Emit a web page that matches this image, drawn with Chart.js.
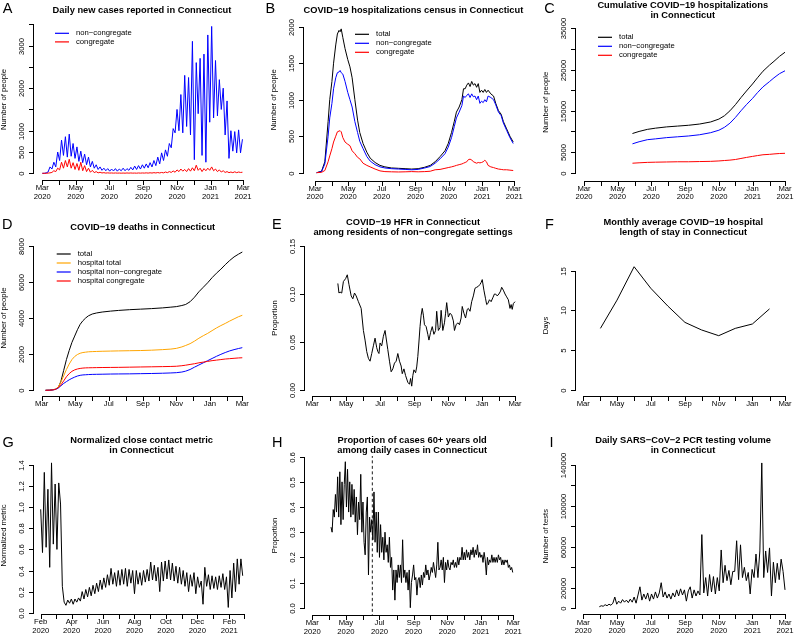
<!DOCTYPE html>
<html>
<head>
<meta charset="utf-8">
<script src="https://cdn.jsdelivr.net/npm/chart.js@4.4.1/dist/chart.umd.min.js"></script>
<style>
  html, body { margin: 0; padding: 0; background: #fff; }
  #fig { position: relative; width: 794px; height: 634px; overflow: hidden; }
  #fig canvas { position: absolute; }
  #fig .rule { position: absolute; background: #000; z-index: 2; pointer-events: none; }
</style>
</head>
<body>
<div id="fig"></div>
<script>
// month ticks, days counted from 1 Mar 2020
const tickDays = [-29, 0, 31, 61, 92, 122, 153, 184, 214, 245, 275, 306, 337, 365];
const tickMonths = ['Feb', 'Mar', 'Apr', 'May', 'Jun', 'Jul', 'Aug', 'Sep', 'Oct', 'Nov', 'Dec', 'Jan', 'Feb', 'Mar'];
const tickYears = ['2020', '2020', '2020', '2020', '2020', '2020', '2020', '2020', '2020', '2020', '2020', '2021', '2021', '2021'];

// A - daily new cases (every 3.5 days from day 0)
const caseStart = 0;
const caseStep = 3.5;
const caseNonCong = [
  0, 0, 10, 30, 150, 100, 260, 150, 500, 300,
  780, 420, 860, 380, 920, 400, 700, 350, 620, 280,
  520, 250, 450, 200, 380, 150, 280, 120, 200, 90,
  150, 70, 120, 60, 110, 50, 100, 55, 110, 50,
  100, 60, 120, 60, 110, 70, 140, 80, 170, 90,
  180, 100, 200, 120, 220, 130, 250, 150, 300, 180,
  380, 220, 480, 300, 550, 400, 700, 600, 1050, 950,
  1500, 1000, 1850, 950, 2300, 1100, 2250, 900, 3100, 320,
  2600, 1400, 2700, 420, 2800, 260, 3250, 1200, 3450, 1300,
  2650, 1350, 2200, 1500, 2000, 900, 1700, 350, 1000, 520,
  980, 480, 1020, 480, 800
];
const caseCong = [
  0, 0, 0, 5, 10, 20, 60, 40, 120, 80,
  260, 120, 300, 150, 330, 120, 250, 90, 230, 70,
  260, 60, 180, 40, 120, 25, 70, 15, 40, 10,
  25, 8, 15, 5, 10, 5, 8, 4, 8, 4,
  6, 3, 6, 3, 8, 4, 8, 4, 6, 3,
  8, 4, 8, 5, 10, 5, 12, 6, 15, 8,
  18, 8, 20, 10, 30, 15, 40, 20, 55, 25,
  80, 40, 100, 50, 90, 40, 110, 50, 130, 60,
  190, 70, 120, 40, 110, 60, 120, 70, 150, 60,
  100, 40, 80, 30, 60, 20, 40, 15, 30, 15,
  35, 15, 30, 20, 25
];
const caseTicks = [0, 500, 1000, 1500, 2000, 2500, 3000, 3500];
const caseTickLabels = ['0', '500', '1000', '', '2000', '', '3000', ''];

// B - hospital census
const censusDays = [
  3, 12, 18, 24, 27, 31, 34, 38, 41, 44, 46, 48, 51, 55, 60, 64, 68, 73, 78, 82,
  88, 95, 101, 110, 119, 128, 140, 153, 165, 177, 189, 201, 211, 220, 229, 238, 244, 250, 255, 259,
  264, 269, 272, 275, 278, 281, 284, 287, 290, 293, 296, 299, 302, 305, 308, 311, 314, 317, 322, 327,
  331, 336, 341, 345, 351, 357, 363
];
const censusTotal = [
  0, 20, 150, 700, 1000, 1250, 1500, 1750, 1900, 1950, 1930, 1970, 1850, 1700, 1550, 1450, 1300, 1000, 720, 550,
  400, 280, 200, 140, 100, 80, 65, 60, 55, 50, 55, 75, 100, 150, 220, 300, 400, 550, 700, 830,
  900, 1000, 1150, 1150, 1200, 1230, 1180, 1250, 1200, 1220, 1170, 1220, 1100, 1130, 1100, 1140, 1100, 1130, 1080, 1050,
  950, 850, 800, 700, 600, 500, 420
];
const censusNonCong = [
  0, 15, 120, 500, 750, 950, 1150, 1300, 1370, 1380, 1400, 1370, 1350, 1250, 1100, 1000, 900, 700, 550, 430,
  330, 220, 160, 110, 80, 65, 55, 50, 45, 40, 45, 65, 85, 130, 190, 260, 350, 480, 630, 750,
  830, 920, 1050, 1030, 1060, 1080, 1030, 1080, 1040, 1050, 1000, 1050, 950, 980, 960, 1000, 970, 1050, 1030, 1000,
  930, 830, 780, 680, 580, 480, 400
];
const censusCong = [
  0, 5, 30, 150, 230, 330, 420, 500, 560, 570, 575, 560, 480, 420, 390, 370, 300, 260, 210, 190,
  130, 100, 80, 50, 25, 15, 12, 10, 12, 15, 12, 15, 20, 40, 45, 60, 70, 80, 90, 100,
  110, 120, 130, 140, 150, 180, 185, 175, 150, 140, 130, 140, 135, 140, 150, 170, 150, 100, 80, 70,
  60, 50, 45, 40, 40, 35, 30
];
const censusTicks = [0, 500, 1000, 1500, 2000];
const censusTickLabels = ['0', '500', '1000', '1500', '2000'];

// C - cumulative hospitalizations
const cumDays = [88, 100, 115, 130, 150, 170, 190, 210, 230, 245, 255, 265, 275, 285, 295, 306, 315, 325, 337, 345, 355, 365];
const cumTotal = [9500, 10000, 10500, 10800, 11100, 11300, 11500, 11800, 12300, 13000, 13800, 15000, 16500, 18200, 19800, 21500, 23000, 24600, 26100, 27000, 28200, 29200];
const cumNonCong = [7000, 7500, 8000, 8200, 8500, 8700, 8900, 9200, 9700, 10300, 11000, 12000, 13400, 15000, 16500, 18000, 19400, 20800, 22100, 23000, 24000, 24700];
const cumCong = [2300, 2400, 2500, 2550, 2600, 2650, 2650, 2700, 2750, 2850, 2950, 3050, 3200, 3450, 3700, 3950, 4150, 4350, 4450, 4550, 4650, 4700];
const cumTicks = [0, 5000, 10000, 15000, 20000, 25000, 30000, 35000];
const cumTickLabels = ['0', '5000', '', '15000', '', '25000', '', '35000'];

// D - cumulative deaths
const deathDays = [7, 14, 20, 25, 30, 35, 40, 45, 50, 55, 60, 65, 70, 75, 80, 85, 92, 100, 110, 125, 140, 160, 180, 200, 220, 235, 245, 255, 262, 270, 278, 286, 294, 302, 310, 318, 326, 334, 342, 350, 358, 365];
const deathTotal = [0, 5, 30, 60, 150, 500, 1100, 1700, 2200, 2650, 3000, 3350, 3650, 3850, 4000, 4120, 4220, 4280, 4330, 4380, 4420, 4460, 4490, 4520, 4560, 4600, 4630, 4690, 4750, 4900, 5150, 5450, 5700, 5950, 6230, 6480, 6700, 6950, 7180, 7380, 7530, 7650];
const deathHosp = [0, 5, 30, 60, 180, 450, 800, 1150, 1450, 1700, 1870, 1980, 2050, 2090, 2110, 2130, 2140, 2150, 2160, 2170, 2180, 2190, 2200, 2220, 2250, 2280, 2320, 2400, 2480, 2580, 2720, 2880, 3020, 3150, 3300, 3450, 3580, 3700, 3830, 3950, 4070, 4150];
const deathHospNonCong = [0, 5, 20, 50, 120, 250, 380, 480, 580, 660, 730, 790, 830, 850, 860, 870, 880, 885, 890, 900, 905, 910, 920, 930, 945, 960, 975, 1010, 1060, 1150, 1280, 1400, 1520, 1640, 1760, 1880, 1990, 2090, 2180, 2250, 2310, 2360];
const deathHospCong = [0, 5, 20, 50, 150, 300, 520, 750, 920, 1050, 1130, 1180, 1210, 1230, 1240, 1245, 1250, 1255, 1260, 1265, 1270, 1280, 1290, 1300, 1310, 1320, 1330, 1360, 1390, 1430, 1470, 1520, 1560, 1600, 1640, 1670, 1700, 1730, 1750, 1770, 1790, 1800];
const deathTicks = [0, 2000, 4000, 6000, 8000];
const deathTickLabels = ['0', '2000', '4000', '6000', '8000'];

// E - hospital fatality rate
const hfrDays = [
  46, 48, 50, 53, 56, 60, 63, 66, 70, 73, 76, 79, 83, 88, 92, 95, 98, 101, 104, 107,
  110, 113, 116, 118, 120, 122, 125, 128, 131, 134, 136, 139, 142, 145, 148, 151, 154, 157, 160, 162,
  165, 168, 172, 175, 177, 179, 181, 183, 186, 188, 190, 192, 194, 196, 198, 200, 202, 205, 208, 210,
  213, 216, 219, 222, 224, 227, 230, 232, 235, 238, 240, 242, 245, 248, 251, 254, 256, 259, 262, 265,
  268, 270, 273, 276, 279, 281, 284, 287, 290, 293, 296, 299, 302, 304, 306, 309, 312, 314, 316, 319,
  322, 325, 328, 330, 333, 336, 339, 341, 344, 347, 350, 353, 356, 358, 360, 362, 365
];
const hfrValues = [
  0.111, 0.101, 0.102, 0.101, 0.113, 0.116, 0.120, 0.110, 0.098, 0.095, 0.101, 0.098, 0.092, 0.085, 0.062, 0.052, 0.040, 0.033, 0.030, 0.038,
  0.046, 0.054, 0.044, 0.040, 0.038, 0.049, 0.046, 0.056, 0.062, 0.050, 0.042, 0.030, 0.019, 0.022, 0.028, 0.030, 0.038, 0.030, 0.025, 0.017,
  0.022, 0.015, 0.008, 0.006, 0.012, 0.004, 0.015, 0.021, 0.018, 0.024, 0.035, 0.050, 0.066, 0.078, 0.085, 0.078, 0.068, 0.066, 0.058, 0.052,
  0.060, 0.066, 0.058, 0.062, 0.082, 0.062, 0.065, 0.083, 0.062, 0.070, 0.080, 0.091, 0.076, 0.080, 0.078, 0.072, 0.062, 0.068, 0.070, 0.068,
  0.075, 0.087, 0.080, 0.075, 0.084, 0.085, 0.082, 0.092, 0.098, 0.106, 0.107, 0.108, 0.110, 0.112, 0.115, 0.104, 0.095, 0.089, 0.090, 0.094,
  0.092, 0.096, 0.100, 0.100, 0.098, 0.100, 0.103, 0.107, 0.104, 0.100, 0.097, 0.094, 0.085, 0.089, 0.084, 0.090, 0.092
];
const hfrTicks = [0, 0.05, 0.1, 0.15];
const hfrTickLabels = ['0.00', '0.05', '0.10', '0.15'];

// F - monthly length of stay
const losDays = [31, 61, 92, 122, 153, 184, 214, 245, 275, 306, 337];
const losValues = [7.75, 11.3, 15.5, 12.8, 10.55, 8.5, 7.55, 6.83, 7.75, 8.3, 10.2];
const losTicks = [0, 5, 10, 15];
const losTickLabels = ['0', '5', '10', '15'];

// G - close contact metric (every 3.5 days from 1 Feb 2020)
const contactStart = -29;
const contactStep = 3.5;
const contactValues = [
  0.98, 0.57, 1.33, 0.62, 1.17, 0.43, 1.42, 0.65, 1.22, 0.60,
  1.23, 1.03, 0.25, 0.10, 0.07, 0.12, 0.09, 0.13, 0.08, 0.13,
  0.10, 0.14, 0.11, 0.20, 0.13, 0.22, 0.15, 0.24, 0.16, 0.26,
  0.18, 0.28, 0.20, 0.31, 0.22, 0.33, 0.24, 0.36, 0.26, 0.42,
  0.27, 0.38, 0.25, 0.40, 0.26, 0.41, 0.27, 0.42, 0.25, 0.41,
  0.28, 0.40, 0.18, 0.40, 0.27, 0.38, 0.26, 0.40, 0.29, 0.41,
  0.30, 0.48, 0.31, 0.45, 0.30, 0.43, 0.20, 0.48, 0.30, 0.49,
  0.32, 0.50, 0.31, 0.47, 0.30, 0.44, 0.28, 0.43, 0.27, 0.40,
  0.25, 0.38, 0.20, 0.36, 0.25, 0.38, 0.18, 0.34, 0.24, 0.30,
  0.08, 0.43, 0.25, 0.36, 0.22, 0.35, 0.23, 0.34, 0.22, 0.35,
  0.24, 0.37, 0.22, 0.34, 0.05, 0.40, 0.14, 0.47, 0.20, 0.51,
  0.27, 0.51, 0.35
];
const contactTicks = [0, 0.2, 0.4, 0.6, 0.8, 1.0, 1.2, 1.4];
const contactTickLabels = ['0.0', '0.2', '0.4', '0.6', '0.8', '1.0', '1.2', '1.4'];

// H - share of cases aged 60+ (every 2 days from day 34)
const ageStart = 34;
const ageStep = 2;
const ageValues = [
  0.32, 0.30, 0.39, 0.36, 0.45, 0.38, 0.52, 0.36, 0.54, 0.33,
  0.50, 0.35, 0.49, 0.58, 0.40, 0.55, 0.38, 0.50, 0.36, 0.49,
  0.37, 0.47, 0.34, 0.44, 0.29, 0.42, 0.35, 0.53, 0.30, 0.42,
  0.26, 0.21, 0.38, 0.44, 0.13, 0.36, 0.30, 0.35, 0.27, 0.46,
  0.26, 0.38, 0.22, 0.38, 0.20, 0.33, 0.22, 0.28, 0.19, 0.30,
  0.22, 0.25, 0.18, 0.28, 0.16, 0.20, 0.07, 0.15, 0.03, 0.15,
  0.10, 0.17, 0.12, 0.17, 0.10, 0.27, 0.12, 0.15, 0.10, 0.14,
  0.07, 0.15, 0.00, 0.10, 0.13, 0.17, 0.11, 0.12, 0.05, 0.11,
  0.12, 0.08, 0.13, 0.09, 0.14, 0.12, 0.17, 0.13, 0.15, 0.11,
  0.13, 0.16, 0.14, 0.18, 0.15, 0.12, 0.17, 0.26, 0.15, 0.16,
  0.19, 0.15, 0.20, 0.10, 0.18, 0.15, 0.19, 0.16, 0.15, 0.18,
  0.17, 0.19, 0.16, 0.18, 0.16, 0.20, 0.17, 0.20, 0.19, 0.24,
  0.19, 0.22, 0.19, 0.23, 0.20, 0.22, 0.19, 0.23, 0.21, 0.24,
  0.20, 0.23, 0.21, 0.25, 0.20, 0.22, 0.20, 0.21, 0.18, 0.22,
  0.19, 0.13, 0.20, 0.17, 0.19, 0.18, 0.21, 0.18, 0.20, 0.18,
  0.20, 0.18, 0.21, 0.19, 0.20, 0.17, 0.19, 0.17, 0.19, 0.18,
  0.19, 0.16, 0.17, 0.15, 0.16, 0.14
];
const ageCutoffDay = 109;
const ageTicks = [0, 0.1, 0.2, 0.3, 0.4, 0.5, 0.6];
const ageTickLabels = ['0.0', '0.1', '0.2', '0.3', '0.4', '0.5', '0.6'];

// I - PCR testing volume (every 3.5 days from day 29)
const testStart = 29;
const testStep = 3.5;
const testValues = [
  1500, 2500, 2000, 3500, 2500, 4000, 3000, 5000, 11000, 4000,
  7000, 5000, 8500, 6000, 8000, 5500, 9000, 6000, 11000, 5000,
  13000, 21000, 8000, 14000, 9000, 15000, 7000, 14000, 9000, 16000,
  10000, 15000, 25000, 11000, 16000, 10000, 14000, 9000, 15000, 11000,
  18000, 12000, 19000, 13000, 18000, 7000, 17000, 21000, 10000, 18000,
  12000, 17000, 13000, 72000, 15000, 30000, 12000, 33000, 16000, 31000,
  14000, 30000, 17000, 57000, 25000, 42000, 27000, 37000, 23000, 36000,
  36000, 66000, 28000, 62000, 30000, 40000, 27000, 35000, 14000, 38000,
  30000, 53000, 30000, 56000, 142000, 30000, 56000, 35000, 59000, 12000,
  45000, 25000, 44000, 28000, 48000, 36000, 18000
];
const testTicks = [0, 20000, 40000, 60000, 80000, 100000, 120000, 140000];
const testTickLabels = ['0', '20000', '', '60000', '', '100000', '', '140000'];

const FONT = "'Liberation Sans', Arial, Helvetica, sans-serif";
const SMALL = 7.7;
const TITLE = 9.3;
const BLUE = '#0000ff';
const RED = '#ff0000';
const ORANGE = '#ffa500';
const BLACK = '#000000';

const seq = (start, step, n) => Array.from({ length: n }, (_, i) => start + i * step);
const pts = (xs, ys) => ys.map((v, i) => ({ x: xs[i], y: v }));

// value range that puts v0 at pixel p0 and v1 at p1, for the edges a and b
function span(v0, p0, v1, p1, a, b) {
  const k = (v1 - v0) / (p1 - p0);
  return [v0 + (a - p0) * k, v0 + (b - p0) * k];
}

// R style axes: tick marks, axis lines between first and last tick,
// rotated y labels, panel letter and a plain legend
const rAxes = {
  id: 'rAxes',
  afterDraw(chart, args, o) {
    const { ctx, chartArea: a } = chart;
    const x = chart.scales.x;
    const y = chart.scales.y;
    const xt = x.ticks;
    const yt = y.ticks;
    const ax = Math.round(a.left);
    const ay = Math.round(a.bottom);
    const px = xt.map((t) => Math.round(x.getPixelForValue(t.value)));
    const py = yt.map((t) => Math.round(y.getPixelForValue(t.value)));
    const yTop = Math.min(...py);
    const yBot = Math.max(...py);
    ctx.save();
    ctx.fillStyle = BLACK;
    ctx.fillRect(ax, yTop, 1, yBot - yTop + 1);
    py.forEach((v) => ctx.fillRect(ax - 4, v, 5, 1));
    ctx.fillRect(px[0], ay, px[px.length - 1] - px[0] + 1, 1);
    px.forEach((v) => ctx.fillRect(v, ay, 1, 5));

    ctx.font = `${SMALL}px ${FONT}`;
    ctx.textAlign = 'center';
    ctx.textBaseline = 'middle';
    yt.forEach((t, i) => {
      if (!t.label) return;
      ctx.save();
      ctx.translate(a.left - 11, py[i] + 0.5);
      ctx.rotate(-Math.PI / 2);
      ctx.fillText(t.label, 0, 0);
      ctx.restore();
    });

    if (o.legend) {
      ctx.textAlign = 'left';
      ctx.lineWidth = 1.2;
      let ly = o.legend.y;
      chart.data.datasets.forEach((ds) => {
        if (!ds.label) return;
        ctx.strokeStyle = ds.borderColor;
        ctx.beginPath();
        ctx.moveTo(o.legend.x, ly);
        ctx.lineTo(o.legend.x + 14, ly);
        ctx.stroke();
        ctx.fillText(ds.label, o.legend.x + 21, ly);
        ly += o.legend.dy;
      });
    }

    ctx.font = `14.5px ${FONT}`;
    ctx.textAlign = 'left';
    ctx.textBaseline = 'alphabetic';
    ctx.fillText(o.letter, o.letterX, o.letterY);
    ctx.restore();
  },
};

const fig = document.getElementById('fig');

function addRule(left, top, width, height) {
  const d = document.createElement('div');
  d.className = 'rule';
  d.style.left = left + 'px';
  d.style.top = top + 'px';
  d.style.width = width + 'px';
  d.style.height = height + 'px';
  fig.appendChild(d);
}

function makePanel(p) {
  const c = document.createElement('canvas');
  c.width = p.w;
  c.height = p.h;
  c.style.left = p.ox + 'px';
  c.style.top = p.oy + 'px';
  c.style.width = p.w + 'px';
  c.style.height = p.h + 'px';
  fig.appendChild(c);

  const L = p.left - p.ox;
  const R = p.right - p.ox;
  const T = p.top - p.oy;
  const B = p.bottom - p.oy;
  const [xmin, xmax] = span(p.xa[0], p.xa[1], p.xa[2], p.xa[3], p.left, p.right);
  const [ymin, ymax] = span(p.ya[0], p.ya[1], p.ya[2], p.ya[3], p.bottom, p.top);

  const titleLh = TITLE * 1.12;
  const titleTop = Math.max(0, p.titleY - p.oy - titleLh / 2);
  const titleBottom = Math.max(0, T - titleTop - p.title.length * titleLh);

  const xDays = tickDays.slice(p.tickFrom);
  const xMonths = tickMonths.slice(p.tickFrom);
  const xYears = tickYears.slice(p.tickFrom);

  const n = p.series.length;
  const datasets = p.series.map((s, i) => ({
    label: s.label,
    data: pts(s.xs, s.ys),
    borderColor: s.color,
    borderWidth: s.width || 1,
    borderDash: s.dash || [],
    pointRadius: 0,
    tension: 0,
    fill: false,
    order: n - i,
  }));

  const chart = new Chart(c, {
    type: 'line',
    data: { datasets },
    plugins: [rAxes],
    options: {
      responsive: false,
      animation: false,
      events: [],
      layout: { padding: { left: 0, top: 0, right: p.w - R, bottom: 0 } },
      plugins: {
        legend: { display: false },
        tooltip: { enabled: false },
        title: {
          display: true,
          text: p.title,
          fullSize: false,
          color: BLACK,
          font: { family: FONT, size: TITLE, weight: 'bold', lineHeight: 1.12 },
          padding: { top: titleTop, bottom: titleBottom },
        },
        rAxes: {
          letter: p.letter,
          letterX: p.letterX - p.ox,
          letterY: p.letterY - p.oy,
          legend: p.legend ? { x: p.legend.x - p.ox, y: p.legend.y - p.oy, dy: p.legend.dy } : null,
        },
      },
      scales: {
        x: {
          type: 'linear',
          min: xmin,
          max: xmax,
          afterBuildTicks: (s) => { s.ticks = xDays.map((v) => ({ value: v })); },
          afterFit: (s) => { s.height = p.h - B; },
          ticks: {
            autoSkip: false,
            maxRotation: 0,
            minRotation: 0,
            padding: 0,
            color: BLACK,
            font: { family: FONT, size: SMALL, lineHeight: 1.1 },
            callback: (v, i) => {
              if (i % 2) return '';
              return p.twoLine ? [xMonths[i], xYears[i]] : xMonths[i];
            },
          },
          grid: { display: true, drawOnChartArea: false, drawTicks: true, tickLength: 4, color: 'rgba(0,0,0,0)' },
          border: { display: false },
        },
        y: {
          type: 'linear',
          min: ymin,
          max: ymax,
          afterBuildTicks: (s) => { s.ticks = p.yTicks.map((v) => ({ value: v })); },
          afterFit: (s) => { s.width = L; },
          ticks: { display: false, autoSkip: false, callback: (v, i) => p.yLabels[i] },
          grid: { display: true, drawOnChartArea: false, drawTicks: true, tickLength: 4, color: 'rgba(0,0,0,0)' },
          border: { display: false },
          title: {
            display: true,
            text: p.yTitle,
            color: BLACK,
            font: { family: FONT, size: SMALL, lineHeight: 1 },
            padding: { top: Math.max(0, L - 29 - SMALL / 2), bottom: 0 },
          },
        },
      },
    },
  });

  // y axis rule and tick marks, placed from the chart's own y scale so they
  // stay on the page layer above the canvas
  const area = chart.chartArea;
  const ys = chart.scales.y;
  const tickPx = ys.ticks.map((t) => Math.round(ys.getPixelForValue(t.value)));
  const yTop = Math.min(...tickPx);
  const yBot = Math.max(...tickPx);
  const axisLeft = p.ox + Math.round(area.left);
  addRule(axisLeft, p.oy + yTop, 1, yBot - yTop + 1);
  tickPx.forEach((v) => addRule(axisLeft - 4, p.oy + v, 5, 1));
  return chart;
}

const caseDays = seq(caseStart, caseStep, caseNonCong.length);

makePanel({
  ox: 0, oy: 0, w: 265, h: 211,
  left: 33, right: 251, top: 19, bottom: 180,
  xa: [0, 42.3, 365, 243], ya: [0, 173.3, 3500, 24.3],
  title: ['Daily new cases reported in Connecticut'], titleY: 10,
  letter: 'A', letterX: 2.7, letterY: 13.2,
  yTitle: 'Number of people', yTicks: caseTicks, yLabels: caseTickLabels,
  tickFrom: 1, twoLine: true,
  legend: { x: 55, y: 33.3, dy: 8.6 },
  series: [
    { label: 'non−congregate', color: BLUE, xs: caseDays, ys: caseNonCong },
    { label: 'congregate', color: RED, xs: caseDays, ys: caseCong },
  ],
});

makePanel({
  ox: 265, oy: 0, w: 265, h: 211,
  left: 302.7, right: 524, top: 19, bottom: 180.5,
  xa: [0, 315, 365, 514.3], ya: [0, 172.7, 2000, 26.7],
  title: ['COVID−19 hospitalizations census in Connecticut'], titleY: 10,
  letter: 'B', letterX: 265.5, letterY: 13,
  yTitle: 'Number of people', yTicks: censusTicks, yLabels: censusTickLabels,
  tickFrom: 1, twoLine: true,
  legend: { x: 355, y: 34.3, dy: 9 },
  series: [
    { label: 'total', color: BLACK, xs: censusDays, ys: censusTotal },
    { label: 'non−congregate', color: BLUE, xs: censusDays, ys: censusNonCong },
    { label: 'congregate', color: RED, xs: censusDays, ys: censusCong },
  ],
});

makePanel({
  ox: 530, oy: 0, w: 264, h: 211,
  left: 575, right: 790.5, top: 24, bottom: 180.5,
  xa: [0, 584, 365, 785], ya: [0, 172.7, 35000, 28.3],
  title: ['Cumulative COVID−19 hospitalizations', 'in Connecticut'], titleY: 5.3,
  letter: 'C', letterX: 544.3, letterY: 13.3,
  yTitle: 'Number of people', yTicks: cumTicks, yLabels: cumTickLabels,
  tickFrom: 1, twoLine: true,
  legend: { x: 598, y: 37.3, dy: 9 },
  series: [
    { label: 'total', color: BLACK, xs: cumDays, ys: cumTotal },
    { label: 'non−congregate', color: BLUE, xs: cumDays, ys: cumNonCong },
    { label: 'congregate', color: RED, xs: cumDays, ys: cumCong },
  ],
});

makePanel({
  ox: 0, oy: 211, w: 265, h: 211,
  left: 33, right: 252.4, top: 240, bottom: 396,
  xa: [0, 41.7, 365, 242.3], ya: [0, 390.3, 8000, 245.7],
  title: ['COVID−19 deaths in Connecticut'], titleY: 227.3,
  letter: 'D', letterX: 2, letterY: 229.3,
  yTitle: 'Number of people', yTicks: deathTicks, yLabels: deathTickLabels,
  tickFrom: 1, twoLine: false,
  legend: { x: 56.7, y: 254, dy: 9 },
  series: [
    { label: 'total', color: BLACK, xs: deathDays, ys: deathTotal },
    { label: 'hospital total', color: ORANGE, xs: deathDays, ys: deathHosp },
    { label: 'hospital non−congregate', color: BLUE, xs: deathDays, ys: deathHospNonCong },
    { label: 'hospital congregate', color: RED, xs: deathDays, ys: deathHospCong },
  ],
});

makePanel({
  ox: 265, oy: 211, w: 265, h: 211,
  left: 304.3, right: 521.7, top: 240, bottom: 396,
  xa: [0, 312.3, 365, 515], ya: [0, 390, 0.15, 246],
  title: ['COVID−19 HFR in Connecticut', 'among residents of non−congregate settings'], titleY: 222.3,
  letter: 'E', letterX: 272, letterY: 229.3,
  yTitle: 'Proportion', yTicks: hfrTicks, yLabels: hfrTickLabels,
  tickFrom: 1, twoLine: false,
  series: [
    { label: '', color: BLACK, xs: hfrDays, ys: hfrValues },
  ],
});

makePanel({
  ox: 530, oy: 211, w: 264, h: 211,
  left: 575, right: 791.6, top: 255, bottom: 396,
  xa: [0, 583.3, 365, 785], ya: [0, 390, 15, 270.7],
  title: ['Monthly average COVID−19 hospital', 'length of stay in Connecticut'], titleY: 222.3,
  letter: 'F', letterX: 545, letterY: 229.3,
  yTitle: 'Days', yTicks: losTicks, yLabels: losTickLabels,
  tickFrom: 1, twoLine: false,
  series: [
    { label: '', color: BLACK, xs: losDays, ys: losValues },
  ],
});

makePanel({
  ox: 0, oy: 422, w: 265, h: 212,
  left: 33.3, right: 250, top: 457, bottom: 614,
  xa: [-29, 40.7, 337, 229.3], ya: [0, 612.7, 1.4, 465],
  title: ['Normalized close contact metric', 'in Connecticut'], titleY: 440,
  letter: 'G', letterX: 2.6, letterY: 446.5,
  yTitle: 'Normalized metric', yTicks: contactTicks, yLabels: contactTickLabels,
  tickFrom: 0, twoLine: true,
  series: [
    { label: '', color: BLACK, xs: seq(contactStart, contactStep, contactValues.length), ys: contactValues },
  ],
});

makePanel({
  ox: 265, oy: 422, w: 265, h: 212,
  left: 304.3, right: 520, top: 456, bottom: 615,
  xa: [0, 312.3, 365, 513.3], ya: [0, 607.7, 0.6, 456.7],
  title: ['Proportion of cases 60+ years old', 'among daily cases in Connecticut'], titleY: 440,
  letter: 'H', letterX: 272, letterY: 446.5,
  yTitle: 'Proportion', yTicks: ageTicks, yLabels: ageTickLabels,
  tickFrom: 1, twoLine: true,
  series: [
    { label: '', color: BLACK, xs: seq(ageStart, ageStep, ageValues.length), ys: ageValues },
    { label: '', color: BLACK, width: 0.9, dash: [3, 2.5], xs: [ageCutoffDay, ageCutoffDay], ys: [-1, 1] },
  ],
});

makePanel({
  ox: 530, oy: 422, w: 264, h: 212,
  left: 575, right: 791, top: 458, bottom: 614.3,
  xa: [0, 583.3, 365, 785], ya: [0, 608.3, 140000, 465],
  title: ['Daily SARS−CoV−2 PCR testing volume', 'in Connecticut'], titleY: 440,
  letter: 'I', letterX: 549.4, letterY: 446.5,
  yTitle: 'Number of tests', yTicks: testTicks, yLabels: testTickLabels,
  tickFrom: 1, twoLine: true,
  series: [
    { label: '', color: BLACK, xs: seq(testStart, testStep, testValues.length), ys: testValues },
  ],
});
</script>
</body>
</html>
